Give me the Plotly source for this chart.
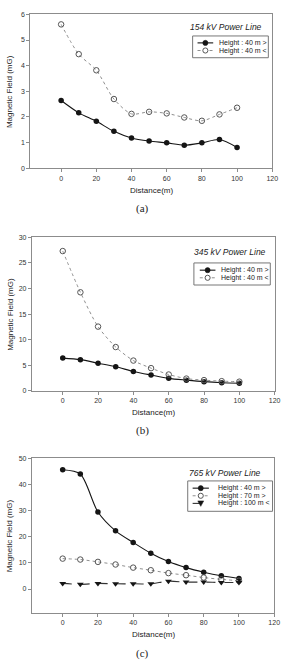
import plotly.graph_objects as go

distance = [0, 10, 20, 30, 40, 50, 60, 70, 80, 90, 100]

# (a) 154 kV
a_low = [2.64, 2.16, 1.83, 1.44, 1.18, 1.06, 0.99, 0.90, 0.99, 1.12, 0.81]
a_high = [5.61, 4.45, 3.82, 2.70, 2.12, 2.20, 2.14, 1.98, 1.85, 2.10, 2.36]
# (b) 345 kV
b_low = [6.4, 6.1, 5.4, 4.7, 3.8, 3.1, 2.45, 2.1, 1.8, 1.6, 1.5]
b_high = [27.3, 19.25, 12.55, 8.56, 5.92, 4.44, 3.2, 2.4, 2.1, 1.9, 1.8]
# (c) 765 kV
c_40 = [45.7, 44.05, 29.5, 22.3, 17.85, 13.7, 10.5, 8.2, 6.45, 5.06, 4.05]
c_70 = [11.65, 11.3, 10.4, 9.4, 8.2, 7.2, 6.1, 5.3, 4.4, 3.7, 3.2]
c_100 = [2.15, 1.8, 2.15, 2.0, 2.0, 2.0, 3.0, 2.65, 2.65, 2.5, 2.5]

titles = ["154 kV Power Line", "345 kV Power Line", "765 kV Power Line"]
panel_labels = ["(a)", "(b)", "(c)"]
legend_names = [["Height : 40 m >", "Height : 40 m <"],
                ["Height : 40 m >", "Height : 40 m <"],
                ["Height : 40 m >", "Height : 70 m >", "Height : 100 m <"]]

W, H = 290, 666
def fx(px): return px / W
def fy(py): return 1 - py / H

fig = go.Figure()

black = "#151515"
grey = "#8f8f8f"
edge = "#555555"
MS = 5.5

STY = {
    "filled": dict(line=dict(color=black, width=1.1, shape="spline", smoothing=0.8),
                   marker=dict(symbol="circle", size=MS, color=black)),
    "open": dict(line=dict(color=grey, width=1, dash="dot", shape="spline", smoothing=0.8),
                 marker=dict(symbol="circle-open", size=MS, color=edge, line=dict(width=1))),
    "tri": dict(line=dict(color="#333333", width=1.1, dash="dash", shape="spline", smoothing=0.8),
                marker=dict(symbol="triangle-down", size=MS + 0.5, color=black)),
}

series = [
    [("filled", a_low), ("open", a_high)],
    [("filled", b_low), ("open", b_high)],
    [("filled", c_40), ("open", c_70), ("tri", c_100)],
]

for i, group in enumerate(series):
    sfx = "" if i == 0 else str(i + 1)
    for j, (kind, ys) in enumerate(group):
        fig.add_trace(go.Scatter(x=distance, y=ys, name=legend_names[i][j], mode="lines+markers",
                                 showlegend=False, xaxis="x" + sfx, yaxis="y" + sfx, **STY[kind]))

tickfont = dict(family="Liberation Sans, Arial", size=7, color="#333333")
axcommon = dict(showline=True, mirror=True, linecolor="#8c8c8c", linewidth=1,
                ticks="outside", ticklen=3, tickcolor="#8c8c8c", showgrid=False,
                zeroline=False, tickfont=tickfont, fixedrange=True)

panels = [
    dict(xl=31, xr=278, yt=10.5, yb=166, yr=[0, 6], dt=1,
         box=(196.7, 32.3, 274, 54.3), items=[39.3, 47], samp=(201.7, 217.7), txt=221.7,
         tit=(269.3, 23.3)),
    dict(xl=32.5, xr=280.5, yt=235.7, yb=391, yr=[0, 30], dt=5,
         box=(198, 261.7, 276, 284), items=[269, 276.7], samp=(204, 220), txt=223.3,
         tit=(274, 251)),
    dict(xl=32.5, xr=280, yt=459.3, yb=615, yr=[-9, 50], dt=10,
         box=(191.7, 482, 278.3, 512.7), items=[489.3, 497, 504.7], samp=(196.7, 213.3), txt=221,
         tit=(268.3, 473.7)),
]
xlab_y = [188, 412.7, 636.7]
plab_y = [207, 431, 656]

layout = dict(width=W, height=H, margin=dict(l=0, r=0, t=0, b=0),
              paper_bgcolor="white", plot_bgcolor="white", showlegend=False)
annotations = []
shapes = []
txtfont = dict(family="Liberation Sans, Arial", size=8, color="#222222")

def ann(text, x, y, font, xanchor="center", **kw):
    d = dict(text=text, x=fx(x), y=fy(y), xref="paper", yref="paper", showarrow=False,
             xanchor=xanchor, yanchor="middle", font=font)
    d.update(kw)
    annotations.append(d)

for i, p in enumerate(panels):
    sfx = "" if i == 0 else str(i + 1)
    layout["xaxis" + sfx] = dict(axcommon, domain=[fx(p["xl"]), fx(p["xr"])],
                                 range=[-17.5, 120.01], dtick=20, tick0=0,
                                 anchor="y" + sfx)
    layout["yaxis" + sfx] = dict(axcommon, domain=[fy(p["yb"]), fy(p["yt"])],
                                 range=p["yr"], dtick=p["dt"], tick0=0,
                                 anchor="x" + sfx)
    xc = (p["xl"] + p["xr"]) / 2
    ann("Distance(m)", xc, xlab_y[i], txtfont)
    ann("Magnetic Field (mG)", 10, (p["yt"] + p["yb"]) / 2, txtfont, textangle=-90)
    ann(panel_labels[i], 146, plab_y[i], dict(family="Liberation Serif, serif", size=11, color="#222222"))
    ann(titles[i], p["tit"][0], p["tit"][1],
        dict(family="Liberation Sans, Arial", size=8.5, color="#222222", style="italic"), xanchor="right")
    # legend box
    bx0, by0, bx1, by1 = p["box"]
    shapes.append(dict(type="rect", xref="paper", yref="paper", x0=fx(bx0), x1=fx(bx1),
                       y0=fy(by1), y1=fy(by0), line=dict(color="#777777", width=1), fillcolor="white"))
    s0, s1 = p["samp"]
    sm = (s0 + s1) / 2
    for j, (kind, _) in enumerate(series[i]):
        yy = p["items"][j]
        st = STY[kind]
        shapes.append(dict(type="line", xref="paper", yref="paper", x0=fx(s0), x1=fx(s1),
                           y0=fy(yy), y1=fy(yy),
                           line=dict(color=st["line"]["color"], width=st["line"]["width"],
                                     dash=st["line"].get("dash", "solid"))))
        r = 2.6
        if kind == "filled":
            shapes.append(dict(type="circle", xref="paper", yref="paper", x0=fx(sm - r), x1=fx(sm + r),
                               y0=fy(yy + r), y1=fy(yy - r), fillcolor=black, line=dict(color=black, width=0.5)))
        elif kind == "open":
            shapes.append(dict(type="circle", xref="paper", yref="paper", x0=fx(sm - r), x1=fx(sm + r),
                               y0=fy(yy + r), y1=fy(yy - r), fillcolor="white", line=dict(color=edge, width=1)))
        else:
            path = "M %f %f L %f %f L %f %f Z" % (fx(sm - 3), fy(yy - 2.5), fx(sm + 3), fy(yy - 2.5),
                                                  fx(sm), fy(yy + 3))
            shapes.append(dict(type="path", xref="paper", yref="paper", path=path,
                               fillcolor=black, line=dict(color=black, width=0.5)))
        ann(legend_names[i][j], p["txt"], yy, dict(family="Liberation Sans, Arial", size=7, color="#222222"),
            xanchor="left")
layout["annotations"] = annotations
layout["shapes"] = shapes
fig.update_layout(**layout)
fig.write_html("out.html")
